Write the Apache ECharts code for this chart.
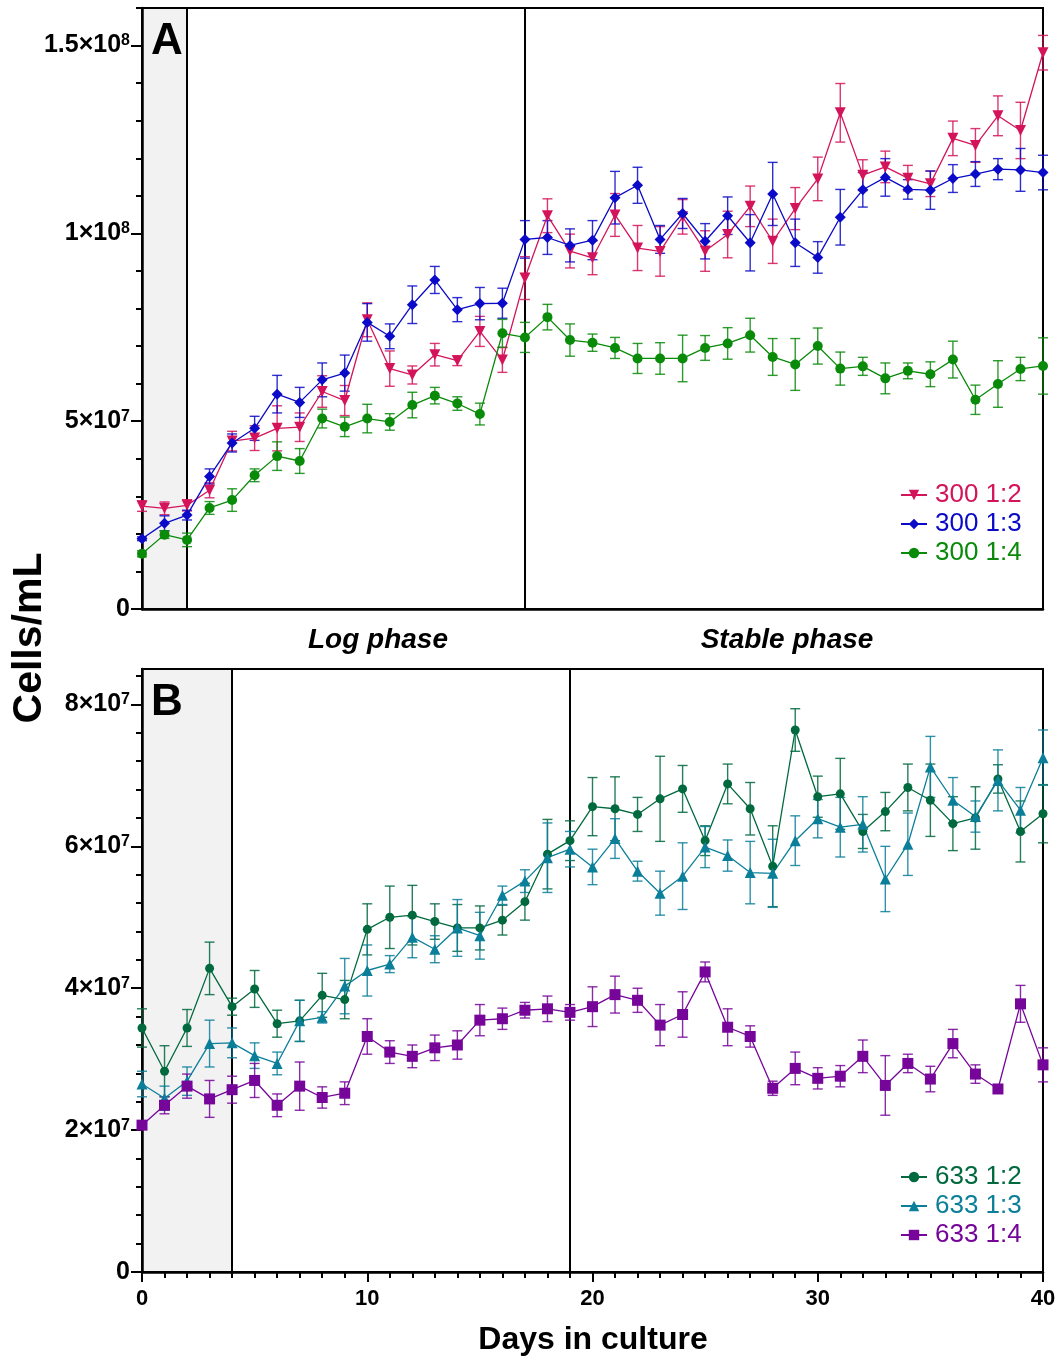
<!DOCTYPE html>
<html>
<head>
<meta charset="utf-8">
<script src="https://cdn.jsdelivr.net/npm/echarts@6/dist/echarts.min.js"></script>
<style>
html, body { margin: 0; padding: 0; background: #fff; }
#chart { width: 1060px; height: 1359px; }
</style>
</head>
<body>
<div id="chart"></div>
<script>
// values are in units of 1e7 cells/mL
var UNIT = 1e7;
var days = [0,1,2,3,4,5,6,7,8,9,10,11,12,13,14,15,16,17,18,19,20,21,22,23,24,25,26,27,28,29,30,31,32,33,34,35,36,37,38,39,40];

// panel A
var v300_12 = [2.74,2.68,2.76,3.16,4.47,4.55,4.81,4.84,5.79,5.55,7.70,6.40,6.23,6.77,
    6.61,7.39,6.63,8.81,10.47,9.53,9.35,10.49,9.61,9.52,10.44,9.53,9.97,10.72,
    9.79,10.66,11.45,13.21,11.55,11.77,11.47,11.32,12.53,12.34,13.13,12.74,14.81];
var e300_12 = [0.14,0.17,0.15,0.2,0.26,0.33,0.6,0.38,0.42,0.4,0.45,0.47,0.24,0.3,
    0.13,0.4,0.33,0.57,0.45,0.45,0.45,0.57,0.6,0.66,0.46,0.54,0.62,0.54,
    0.59,0.56,0.58,0.78,0.41,0.42,0.34,0.34,0.46,0.45,0.53,0.75,0.46];
var v300_13 = [1.87,2.28,2.50,3.53,4.42,4.81,5.72,5.50,6.10,6.28,7.63,7.26,8.10,8.76,
    7.97,8.13,8.14,9.84,9.89,9.68,9.82,10.95,11.28,9.84,10.53,9.79,10.47,9.75,
    11.05,9.75,9.36,10.43,11.16,11.49,11.17,11.15,11.46,11.58,11.71,11.69,11.62];
var e300_13 = [0.05,0.2,0.13,0.2,0.24,0.32,0.5,0.4,0.45,0.48,0.5,0.33,0.5,0.36,
    0.32,0.43,0.4,0.5,0.45,0.44,0.52,0.7,0.48,0.37,0.4,0.47,0.5,0.75,
    0.84,0.63,0.42,0.74,0.46,0.5,0.26,0.51,0.37,0.33,0.28,0.57,0.46];
var v300_14 = [1.47,1.98,1.84,2.69,2.90,3.56,4.07,3.94,5.07,4.85,5.07,4.98,5.43,5.68,
    5.47,5.19,7.34,7.23,7.77,7.16,7.09,6.95,6.67,6.67,6.67,6.95,7.07,7.29,
    6.71,6.51,7.00,6.40,6.46,6.14,6.34,6.25,6.64,5.57,5.99,6.39,6.47];
var e300_14 = [0.08,0.1,0.18,0.17,0.3,0.17,0.38,0.33,0.25,0.26,0.38,0.22,0.34,0.22,
    0.18,0.29,0.37,0.4,0.34,0.43,0.23,0.28,0.4,0.42,0.62,0.33,0.42,0.45,
    0.49,0.69,0.48,0.44,0.24,0.41,0.21,0.33,0.49,0.39,0.62,0.31,0.75];

// panel B
var v633_12 = [3.44,2.83,3.44,4.28,3.74,3.99,3.50,3.54,3.90,3.84,4.83,5.00,5.03,4.94,
    4.85,4.85,4.96,5.22,5.89,6.08,6.56,6.53,6.45,6.67,6.81,6.08,6.88,6.53,
    5.72,7.64,6.70,6.74,6.21,6.49,6.83,6.65,6.32,6.40,6.95,6.21,6.46];
var e633_12 = [0.27,0.36,0.26,0.37,0.12,0.26,0.19,0.29,0.31,0.27,0.36,0.44,0.42,0.25,
    0.33,0.31,0.21,0.26,0.49,0.28,0.41,0.45,0.24,0.6,0.33,0.21,0.28,0.37,
    0.57,0.3,0.29,0.5,0.24,0.27,0.33,0.51,0.38,0.44,0.2,0.43,0.41];
var v633_13 = [2.65,2.45,2.69,3.22,3.23,3.05,2.94,3.54,3.59,4.03,4.25,4.34,4.72,4.55,
    4.85,4.74,5.31,5.51,5.84,5.96,5.71,6.11,5.65,5.34,5.58,5.99,5.87,5.63,
    5.62,6.08,6.39,6.27,6.31,5.54,6.03,7.12,6.65,6.42,6.93,6.51,7.25];
var e633_13 = [0.18,0.17,0.2,0.33,0.21,0.18,0.16,0.29,0.08,0.39,0.36,0.12,0.29,0.19,
    0.4,0.33,0.13,0.16,0.49,0.25,0.25,0.28,0.14,0.31,0.47,0.29,0.22,0.44,
    0.48,0.35,0.27,0.42,0.39,0.46,0.44,0.43,0.32,0.22,0.43,0.32,0.39];
var v633_14 = [2.07,2.35,2.62,2.44,2.57,2.70,2.35,2.62,2.46,2.52,3.32,3.10,3.04,3.16,
    3.20,3.55,3.57,3.69,3.71,3.66,3.74,3.91,3.83,3.48,3.63,4.23,3.45,3.32,
    2.59,2.87,2.73,2.76,3.04,2.63,2.94,2.72,3.22,2.79,2.58,3.78,2.92];
var e633_14 = [0.05,0.12,0.17,0.26,0.19,0.24,0.16,0.34,0.15,0.16,0.25,0.16,0.16,0.18,
    0.2,0.22,0.15,0.11,0.18,0.11,0.28,0.26,0.17,0.29,0.32,0.14,0.26,0.15,
    0.1,0.23,0.15,0.15,0.23,0.42,0.13,0.18,0.2,0.13,0.03,0.26,0.24];

// ticks
var xTicks = [0, 10, 20, 30, 40];
var yTicksA = [0, 5, 10, 15];
var yMinorA = [0,1,2,3,4,5,6,7,8,9,10,11,12,13,14,15,16];
var yTicksB = [0, 2, 4, 6, 8];
var yMinorB = [0,0.4,0.8,1.2,1.6,2,2.4,2.8,3.2,3.6,4,4.4,4.8,5.2,5.6,6,6.4,6.8,7.2,7.6,8,8.4];

// phases: shaded lag window and phase boundaries
var shadeA = [0, 2], linesA = [2, 17];
var shadeB = [0, 4], linesB = [4, 19];

var FONT = "'Liberation Sans', Arial, Helvetica, sans-serif";

function pairs(vals) {
    return days.map(function (d, i) { return [d, vals[i]]; });
}
function bars(vals, errs) {
    return days.map(function (d, i) { return [d, vals[i] - errs[i], vals[i] + errs[i]]; });
}
function sciLabel(v) {
    if (v === 0) return '{n|0}';
    var real = v * UNIT;
    var exp = Math.floor(Math.log10(real) + 1e-9);
    var mant = +(real / Math.pow(10, exp)).toFixed(2);
    return '{n|' + mant + '×10}{s|' + exp + '}';
}
function renderErr(params, api) {
    var x = api.value(0);
    var p1 = api.coord([x, api.value(1)]);
    var p2 = api.coord([x, api.value(2)]);
    var w = 5;
    var style = { stroke: api.visual('color'), lineWidth: 1.4, opacity: 0.85 };
    return {
        type: 'group',
        children: [
            { type: 'line', shape: { x1: p1[0], y1: p1[1], x2: p2[0], y2: p2[1] }, style: style },
            { type: 'line', shape: { x1: p1[0] - w, y1: p1[1], x2: p1[0] + w, y2: p1[1] }, style: style },
            { type: 'line', shape: { x1: p2[0] - w, y1: p2[1], x2: p2[0] + w, y2: p2[1] }, style: style }
        ]
    };
}

var seriesDefs = [
    { name: '300 1:2', vals: v300_12, errs: e300_12, color: '#d4145a', symbol: 'triangle', rotate: 180, size: 11, grid: 0 },
    { name: '300 1:3', vals: v300_13, errs: e300_13, color: '#0a0ac8', symbol: 'diamond', rotate: 0, size: 11, grid: 0 },
    { name: '300 1:4', vals: v300_14, errs: e300_14, color: '#098a09', symbol: 'circle', rotate: 0, size: 10, grid: 0 },
    { name: '633 1:2', vals: v633_12, errs: e633_12, color: '#00693e', symbol: 'circle', rotate: 0, size: 9, grid: 1 },
    { name: '633 1:3', vals: v633_13, errs: e633_13, color: '#0b7f9a', symbol: 'triangle', rotate: 0, size: 11, grid: 1 },
    { name: '633 1:4', vals: v633_14, errs: e633_14, color: '#76059a', symbol: 'rect', rotate: 0, size: 11, grid: 1 }
];

var series = [];
seriesDefs.forEach(function (s) {
    series.push({
        name: s.name + ' SD',
        type: 'custom',
        xAxisIndex: s.grid,
        yAxisIndex: s.grid * 2,
        renderItem: renderErr,
        itemStyle: { color: s.color },
        encode: { x: 0, y: [1, 2] },
        silent: true,
        z: 2,
        data: bars(s.vals, s.errs)
    });
});
seriesDefs.forEach(function (s, i) {
    var item = {
        name: s.name,
        type: 'line',
        xAxisIndex: s.grid,
        yAxisIndex: s.grid * 2,
        symbol: s.symbol,
        symbolSize: s.size,
        symbolRotate: s.rotate,
        showAllSymbol: true,
        lineStyle: { color: s.color, width: 1.3 },
        itemStyle: { color: s.color, opacity: 1 },
        z: 3,
        animation: false,
        data: pairs(s.vals)
    };
    if (i === 0 || i === 3) {
        var shade = i === 0 ? shadeA : shadeB;
        var lines = i === 0 ? linesA : linesB;
        item.markArea = {
            silent: true,
            itemStyle: { color: '#f2f2f2', borderWidth: 0 },
            data: [[{ xAxis: shade[0] }, { xAxis: shade[1] }]]
        };
        item.markLine = {
            silent: true,
            symbol: 'none',
            z: 1.6,
            label: { show: false },
            lineStyle: { color: '#000', width: 2, type: 'solid' },
            data: lines.map(function (d) { return { xAxis: d }; })
        };
    }
    series.push(item);
});

var axisLine = { show: true, lineStyle: { color: '#000', width: 2.5 } };
var tickLabelRich = {
    n: { fontFamily: FONT, fontWeight: 'bold', fontSize: 25, lineHeight: 26, color: '#000' },
    s: { fontFamily: FONT, fontWeight: 'bold', fontSize: 16, lineHeight: 16, color: '#000', verticalAlign: 'top' }
};

function yMajor(gridIndex, max, ticks) {
    return {
        type: 'value', gridIndex: gridIndex, min: 0, max: max, z: 1.5,
        axisLine: axisLine,
        splitLine: { show: false },
        axisTick: { show: true, length: 11, customValues: ticks, lineStyle: { color: '#000', width: 2 } },
        axisLabel: { show: true, margin: 12, customValues: ticks, formatter: sciLabel, rich: tickLabelRich }
    };
}
function yMinor(gridIndex, max, ticks) {
    return {
        type: 'value', gridIndex: gridIndex, min: 0, max: max, position: 'left', z: 1.5,
        axisLine: { show: false },
        splitLine: { show: false },
        axisTick: { show: true, length: 6, customValues: ticks, lineStyle: { color: '#000', width: 2 } },
        axisLabel: { show: false }
    };
}

var option = {
    backgroundColor: '#fff',
    animation: false,
    grid: [
        { left: 142, top: 8, width: 901, height: 601, show: true, borderColor: '#000', borderWidth: 2, z: 1.5 },
        { left: 142, top: 669, width: 901, height: 603, show: true, borderColor: '#000', borderWidth: 2, z: 1.5 }
    ],
    xAxis: [
        {
            type: 'value', gridIndex: 0, min: 0, max: 40, interval: 10, z: 1.5,
            axisLine: axisLine, axisTick: { show: false }, axisLabel: { show: false }, splitLine: { show: false }
        },
        {
            type: 'value', gridIndex: 1, min: 0, max: 40, interval: 10, z: 1.5,
            axisLine: axisLine,
            splitLine: { show: false },
            axisTick: { show: true, length: 10, customValues: xTicks, lineStyle: { color: '#000', width: 2 } },
            minorTick: { show: true, splitNumber: 10, length: 6, lineStyle: { color: '#000', width: 2 } },
            axisLabel: { show: true, margin: 16, customValues: xTicks, fontFamily: FONT, fontWeight: 'bold', fontSize: 22, color: '#000' }
        }
    ],
    yAxis: [
        yMajor(0, 16, yTicksA), yMinor(0, 16, yMinorA),
        yMajor(1, 8.5, yTicksB), yMinor(1, 8.5, yMinorB)
    ],
    legend: [
        {
            orient: 'vertical', left: 895, top: 477, itemWidth: 26, itemHeight: 13, itemGap: 3,
            selectedMode: false,
            textStyle: { fontFamily: FONT, fontSize: 26, padding: [0, 0, 0, 3] },
            data: seriesDefs.slice(0, 3).map(function (s) { return { name: s.name, textStyle: { color: s.color } }; })
        },
        {
            orient: 'vertical', left: 895, top: 1159, itemWidth: 26, itemHeight: 13, itemGap: 3,
            selectedMode: false,
            textStyle: { fontFamily: FONT, fontSize: 26, padding: [0, 0, 0, 3] },
            data: seriesDefs.slice(3).map(function (s) { return { name: s.name, textStyle: { color: s.color } }; })
        }
    ],
    graphic: [
        { type: 'text', x: 151, y: 42, z: 10, style: { text: 'A', font: 'bold 44px ' + FONT, fill: '#000', textVerticalAlign: 'middle' } },
        { type: 'text', x: 151, y: 703, z: 10, style: { text: 'B', font: 'bold 44px ' + FONT, fill: '#000', textVerticalAlign: 'middle' } },
        { type: 'text', x: 378, y: 640, style: { text: 'Log phase', font: 'italic bold 28px ' + FONT, fill: '#000', textAlign: 'center', textVerticalAlign: 'middle' } },
        { type: 'text', x: 787, y: 640, style: { text: 'Stable phase', font: 'italic bold 28px ' + FONT, fill: '#000', textAlign: 'center', textVerticalAlign: 'middle' } },
        { type: 'text', x: 30, y: 638, rotation: Math.PI / 2, style: { text: 'Cells/mL', font: 'bold 41px ' + FONT, fill: '#000', textAlign: 'center', textVerticalAlign: 'middle' } },
        { type: 'text', x: 593, y: 1340, style: { text: 'Days in culture', font: 'bold 32px ' + FONT, fill: '#000', textAlign: 'center', textVerticalAlign: 'middle' } }
    ],
    series: series
};

var chart = echarts.init(document.getElementById('chart'));
chart.setOption(option);
</script>
</body>
</html>
